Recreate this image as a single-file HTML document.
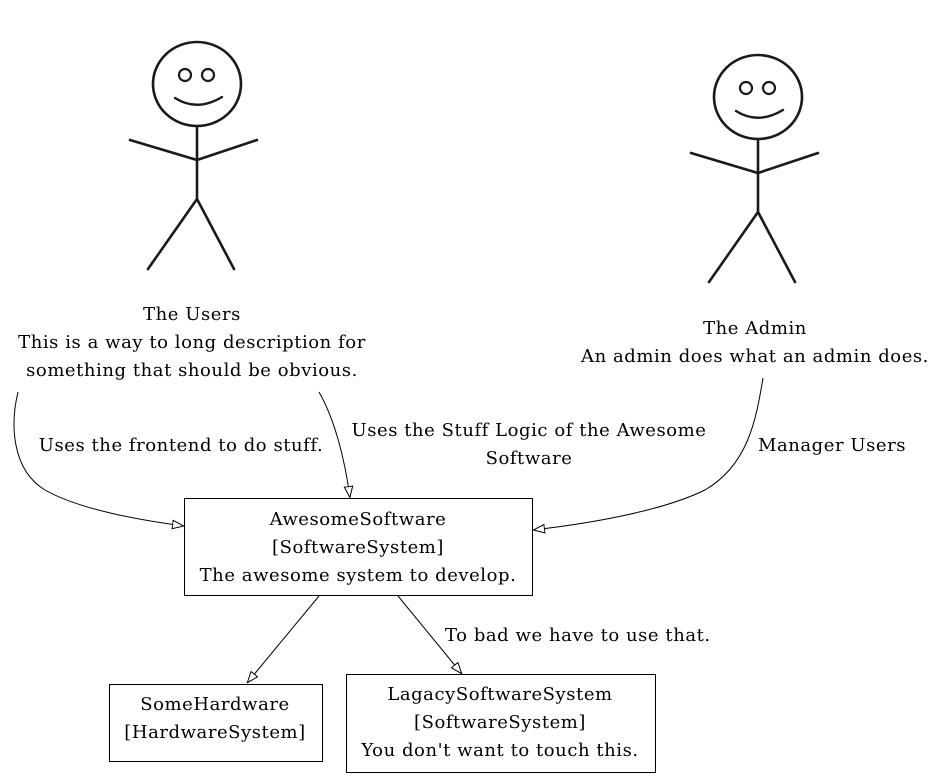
<!DOCTYPE html>
<html><head><meta charset="utf-8"><style>
html,body{margin:0;padding:0;background:#fff;}
svg text{font-family:"DejaVu Serif","Liberation Serif",serif;font-size:18px;letter-spacing:0.55px;fill:#000;}
</style></head><body>
<svg width="949" height="777" viewBox="0 0 949 777" xmlns="http://www.w3.org/2000/svg">
<defs>
<marker id="a" viewBox="0 0 12 10" refX="12" refY="5" markerWidth="12" markerHeight="10" markerUnits="userSpaceOnUse" orient="auto">
<path d="M0.5,0.8 L11.5,5 L0.5,9.2 Z" fill="#fff" stroke="#000" stroke-width="1"/>
</marker>
<g id="fig" fill="none" stroke="#1a1a1a" stroke-width="2.6" stroke-linecap="round">
<ellipse cx="197" cy="84" rx="44" ry="42"/>
<circle cx="185" cy="75" r="6" stroke-width="2.2"/>
<circle cx="208" cy="75" r="6" stroke-width="2.2"/>
<path d="M175,98 Q197,112 222,97" stroke-width="2.4"/>
<path d="M197,126 L197,199"/>
<path d="M130,140 L197,160 L257,140"/>
<path d="M148,269 L197,199 L234,269"/>
</g>
</defs>
<use href="#fig"/>
<use href="#fig" transform="translate(561,13)"/>
<g fill="none" stroke="#000" stroke-width="1">
<path d="M18,392 C10,425 12,470 45,490 C80,510 145,521 184,526" marker-end="url(#a)"/>
<path d="M319,392 C335,420 345,460 350,498" marker-end="url(#a)"/>
<path d="M763,378 C756,420 748,465 705,490 C660,512 585,524 533,530" marker-end="url(#a)"/>
<path d="M319,596 L247,683" marker-end="url(#a)"/>
<path d="M398,596 L462,674" marker-end="url(#a)"/>
<rect x="184.5" y="498.5" width="348" height="97"/>
<rect x="109.5" y="684.5" width="213" height="77"/>
<rect x="346.5" y="674.5" width="309" height="98"/>
</g>
<g text-anchor="middle">
<text x="192" y="320">The Users</text>
<text x="192" y="348">This is a way to long description for</text>
<text x="192" y="376">something that should be obvious.</text>
<text x="755" y="334">The Admin</text>
<text x="755" y="362">An admin does what an admin does.</text>
<text x="181" y="451">Uses the frontend to do stuff.</text>
<text x="529" y="436">Uses the Stuff Logic of the Awesome</text>
<text x="529" y="464">Software</text>
<text x="358" y="525">AwesomeSoftware</text>
<text x="358" y="553">[SoftwareSystem]</text>
<text x="358" y="581">The awesome system to develop.</text>
<text x="215" y="710">SomeHardware</text>
<text x="215" y="738">[HardwareSystem]</text>
<text x="500" y="700">LagacySoftwareSystem</text>
<text x="500" y="728">[SoftwareSystem]</text>
<text x="500" y="756">You don't want to touch this.</text>
</g>
<text x="758" y="451">Manager Users</text>
<text x="445" y="641">To bad we have to use that.</text>
</svg>
</body></html>
